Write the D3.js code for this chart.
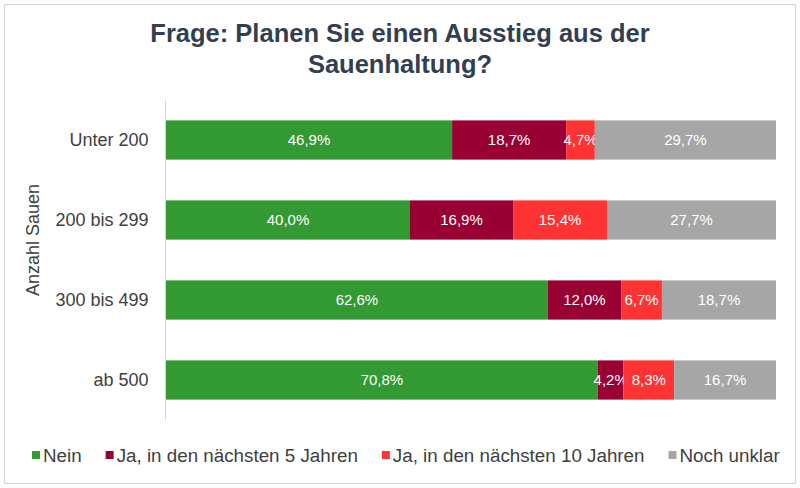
<!DOCTYPE html>
<html>
<head>
<meta charset="utf-8">
<script src="https://cdn.jsdelivr.net/npm/d3@7"></script>
<style>
  body { margin: 0; background: #fff; }
  svg { font-family: "Liberation Sans", Arial, sans-serif; }
</style>
</head>
<body>
<svg width="800" height="488"></svg>
<script>
// categories and series (percent of farms)
var categories = ['Unter 200', '200 bis 299', '300 bis 499', 'ab 500'];
var seriesNames = ['Nein', 'Ja, in den nächsten 5 Jahren', 'Ja, in den nächsten 10 Jahren', 'Noch unklar'];
var nein       = [46.9, 40.0, 62.6, 70.8];
var ja5        = [18.7, 16.9, 12.0, 4.2];
var ja10       = [4.7, 15.4, 6.7, 8.3];
var unklar     = [29.7, 27.7, 18.7, 16.7];
var colors = ['#339933', '#990033', '#ff3333', '#a6a6a6'];

var svg = d3.select('svg');

// build rows for the stack layout
var rows = categories.map(function(c, i) {
    return { cat: c, s0: nein[i], s1: ja5[i], s2: ja10[i], s3: unklar[i] };
});
var keys = ['s0', 's1', 's2', 's3'];
var stacked = d3.stack().keys(keys)(rows);

var xScale = d3.scaleLinear().domain([0, 100]).range([166, 776]);
var yScale = d3.scaleBand().domain(categories).range([100, 420])
    .paddingInner(0.51).paddingOuter(0.255);

// outer frame
svg.append('rect')
    .attr('x', 4.5).attr('y', 4.5)
    .attr('width', 791).attr('height', 479)
    .attr('fill', 'none')
    .attr('stroke', '#d4d4d4');

// title
var title = svg.append('text')
    .attr('text-anchor', 'middle')
    .attr('fill', '#333f50')
    .style('font-size', '25.5px')
    .style('font-weight', 'bold');
title.append('tspan').attr('x', 400).attr('y', 42).text('Frage: Planen Sie einen Ausstieg aus der');
title.append('tspan').attr('x', 400).attr('y', 73).text('Sauenhaltung?');

// bars
var layer = svg.selectAll('.layer')
    .data(stacked)
    .enter().append('g')
    .attr('class', 'layer')
    .attr('fill', function(d, i) { return colors[i]; });

layer.selectAll('rect')
    .data(function(d) { return d; })
    .enter().append('rect')
    .attr('x', function(d) { return xScale(d[0]); })
    .attr('y', function(d) { return yScale(d.data.cat); })
    .attr('width', function(d) { return xScale(d[1]) - xScale(d[0]); })
    .attr('height', yScale.bandwidth());

// value labels
layer.selectAll('text')
    .data(function(d) { return d; })
    .enter().append('text')
    .attr('x', function(d) { return (xScale(d[0]) + xScale(d[1])) / 2; })
    .attr('y', function(d) { return yScale(d.data.cat) + yScale.bandwidth() / 2; })
    .attr('dy', '0.35em')
    .attr('text-anchor', 'middle')
    .attr('fill', '#fff')
    .style('font-size', '15px')
    .text(function(d) { return (d[1] - d[0]).toFixed(1).replace('.', ',') + '%'; });

// y axis
var yAxis = d3.axisLeft(yScale).tickSize(0).tickPadding(17);
var yG = svg.append('g')
    .attr('transform', 'translate(165.5,0)')
    .call(yAxis);
yG.select('.domain').attr('stroke', '#d9d9d9').attr('d', 'M0,100V420');
yG.selectAll('text')
    .attr('fill', '#404040')
    .style('font-size', '18px')
    .style('font-family', '"Liberation Sans", Arial, sans-serif');

svg.append('text')
    .attr('transform', 'translate(39,240) rotate(-90)')
    .attr('text-anchor', 'middle')
    .attr('fill', '#404040')
    .style('font-size', '18px')
    .text('Anzahl Sauen');

// legend
var legend = svg.append('g');
var lx = 32;
seriesNames.forEach(function(name, i) {
    legend.append('rect')
        .attr('x', lx).attr('y', 451)
        .attr('width', 8).attr('height', 8)
        .attr('fill', colors[i]);
    var t = legend.append('text')
        .attr('x', lx + 11).attr('y', 462)
        .attr('fill', '#404040')
        .style('font-size', '18.8px')
        .text(name);
    lx += 11 + t.node().getComputedTextLength() + 24;
});
</script>
</body>
</html>
